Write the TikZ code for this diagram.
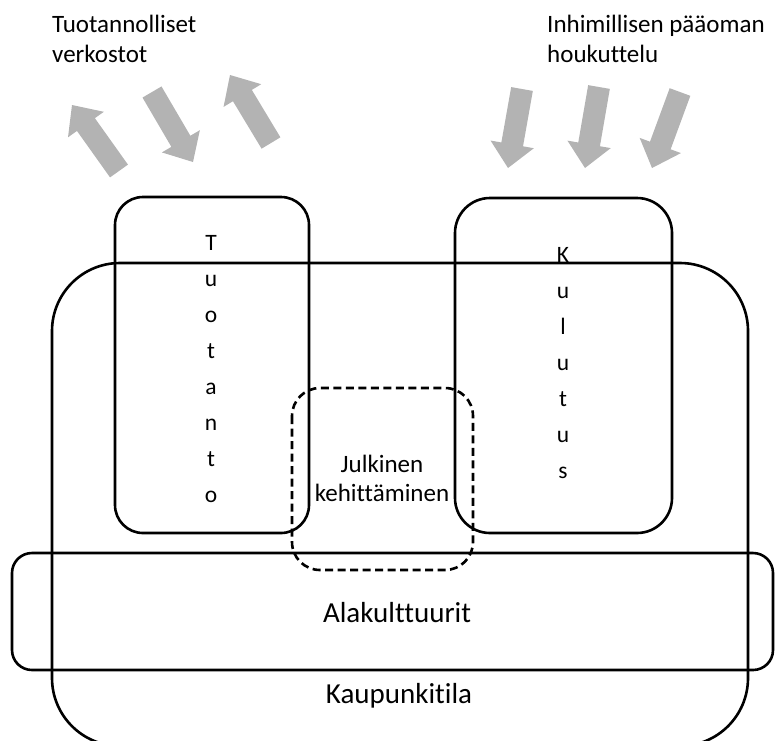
\documentclass[tikz,border=0pt]{standalone}
\usepackage{fontspec}
\setmainfont[Ligatures=NoCommon]{Carlito}
\usetikzlibrary{calc}
\definecolor{arrowgray}{RGB}{179,179,179}

% block arrow from tail point #1 to tip point #2
\newcommand{\blockarrow}[2]{%
  \coordinate (ba-tail) at (#1);
  \coordinate (ba-tip) at (#2);
  \coordinate (ba-neck) at ($(ba-tip)!24pt!(ba-tail)$);
  \fill[arrowgray]
    ($(ba-tail)!11pt!90:(ba-tip)$) --
    ($(ba-neck)!11pt!90:(ba-tip)$) --
    ($(ba-neck)!22pt!90:(ba-tip)$) --
    (ba-tip) --
    ($(ba-neck)!22pt!-90:(ba-tip)$) --
    ($(ba-neck)!11pt!-90:(ba-tip)$) --
    ($(ba-tail)!11pt!-90:(ba-tip)$) -- cycle;
}

\tikzset{
  region/.style={draw=black, line width=2.6pt},
  publicregion/.style={draw=black, line width=2.6pt, dash pattern=on 8pt off 4.5pt},
  toplabel/.style={inner sep=0pt, align=left, font=\fontsize{25}{30}\selectfont},
  columnlabel/.style={inner sep=0pt, align=center, font=\fontsize{23.5}{36}\selectfont},
  midlabel/.style={inner sep=0pt, align=center, font=\fontsize{25}{29}\selectfont},
  baselabel/.style={inner sep=0pt, font=\fontsize{29}{32}\selectfont}
}

\begin{document}
\begin{tikzpicture}[x=1pt,y=-1pt]
\useasboundingbox (0,0) rectangle (775,740);

% regions
\draw[region, rounded corners=68pt] (52,263) rectangle (748,746);
\draw[region, rounded corners=20pt] (12,553) rectangle (773,670);
\draw[region, rounded corners=28pt] (115,197) rectangle (309,533);
\draw[region, rounded corners=35pt] (455,198) rectangle (672,533);
\draw[publicregion, rounded corners=28pt] (292,388) rectangle (473,570);

% labels
\node[toplabel, anchor=north west] (verkostot) at (52,15) {Tuotannolliset\\verkostot};
\node[toplabel, anchor=north west] (houkuttelu) at (547,15) {Inhimillisen pääoman\\houkuttelu};
\node[columnlabel, anchor=north] (tuotanto) at (211,235) {T\\u\\o\\t\\a\\n\\t\\o};
\node[columnlabel, anchor=north] (kulutus) at (563,247) {K\\u\\l\\u\\t\\u\\s};
\node[midlabel, anchor=north] (julkinen) at (382,455) {Julkinen\\kehittäminen};
\node[baselabel, anchor=base] (alakulttuurit) at (397,622) {Alakulttuurit};
\node[baselabel, anchor=base] (kaupunkitila) at (399,703) {Kaupunkitila};

% flows of production networks
\blockarrow{119,171}{72,105}
\blockarrow{152,92}{193,162}
\blockarrow{271,143}{230,75}

% inflow of human capital
\blockarrow{522,89}{508,168}
\blockarrow{599,87}{585,168}
\blockarrow{680,92}{652,168}
\end{tikzpicture}
\end{document}
